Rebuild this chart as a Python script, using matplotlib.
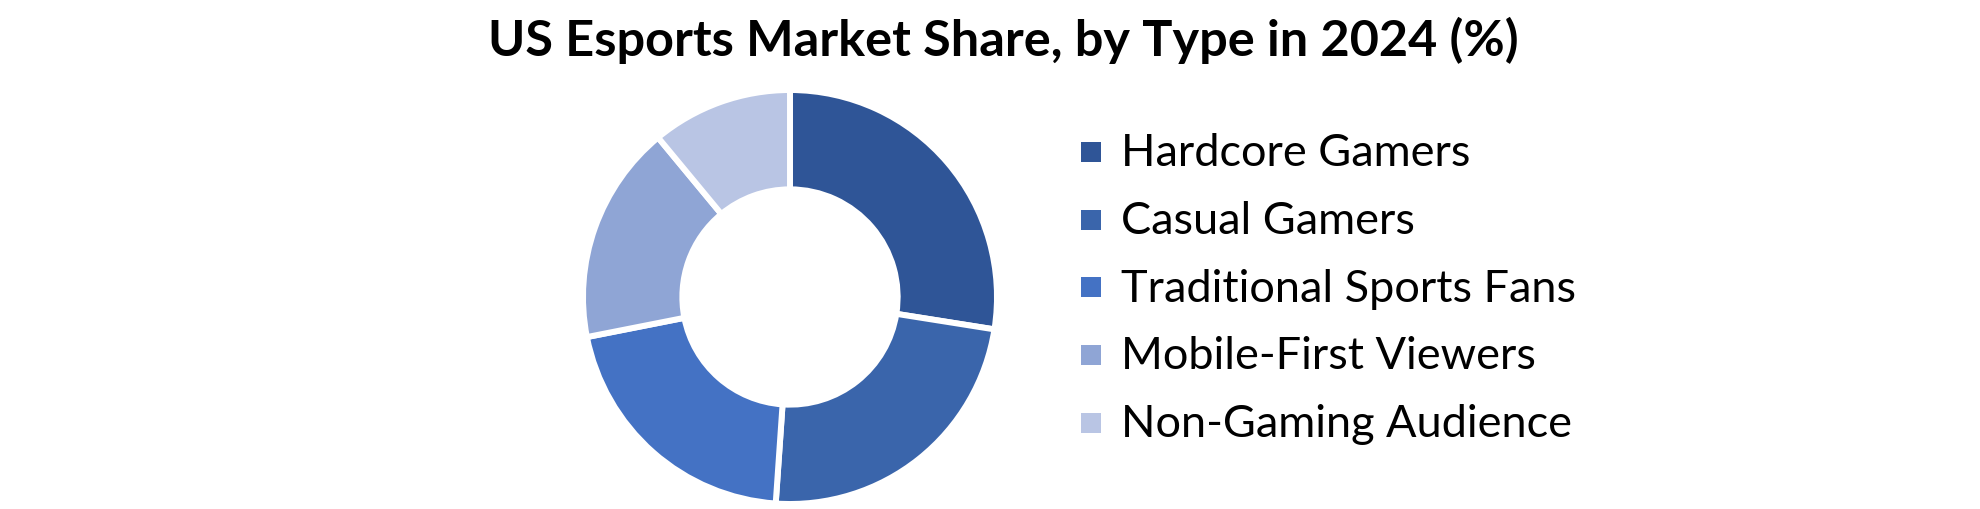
import matplotlib.pyplot as plt
from matplotlib.lines import Line2D

segments = ["Hardcore Gamers", "Casual Gamers", "Traditional Sports Fans",
            "Mobile-First Viewers", "Non-Gaming Audience"]
shares = [27.5, 23.6, 20.8, 17.1, 11.0]
colors = ["#2F5597", "#3A65AB", "#4472C4", "#8FA5D5", "#B9C5E4"]

plt.rcParams['font.family'] = ['Lato', 'DejaVu Sans']

W, H = 1980, 509
fig = plt.figure(figsize=(W / 100, H / 100), dpi=100)

# donut axes: centre (790, 297) px, outer radius ~207 px
cx, cy, r = 790, 297, 207
ax = fig.add_axes([(cx - r) / W, (H - cy - r) / H, 2 * r / W, 2 * r / H])
wedges, _ = ax.pie(shares, colors=colors, startangle=90, counterclock=False,
                   radius=1.0,
                   wedgeprops=dict(width=0.48, edgecolor="white", linewidth=4.3))
ax.set_xlim(-1, 1)
ax.set_ylim(-1, 1)
ax.set_aspect("equal")
ax.axis("off")

fig.text(1003 / W, 1 - 40 / H, "US Esports Market Share, by Type in 2024 (%)",
         ha="center", va="center", fontsize=36.3, fontweight="bold", color="black")

# square legend markers (~20 px)
handles = [Line2D([], [], marker="s", linestyle="", markersize=14.4,
                  markerfacecolor=c, markeredgewidth=0) for c in colors]
fig.legend(handles, segments, loc="center left",
           bbox_to_anchor=(1081 / W, 1 - 289 / H), frameon=False,
           fontsize=32.5, handlelength=0.45, handleheight=0.45,
           handletextpad=0.43, labelspacing=0.59, borderpad=0, borderaxespad=0)

fig.savefig("out.png", dpi=100)
